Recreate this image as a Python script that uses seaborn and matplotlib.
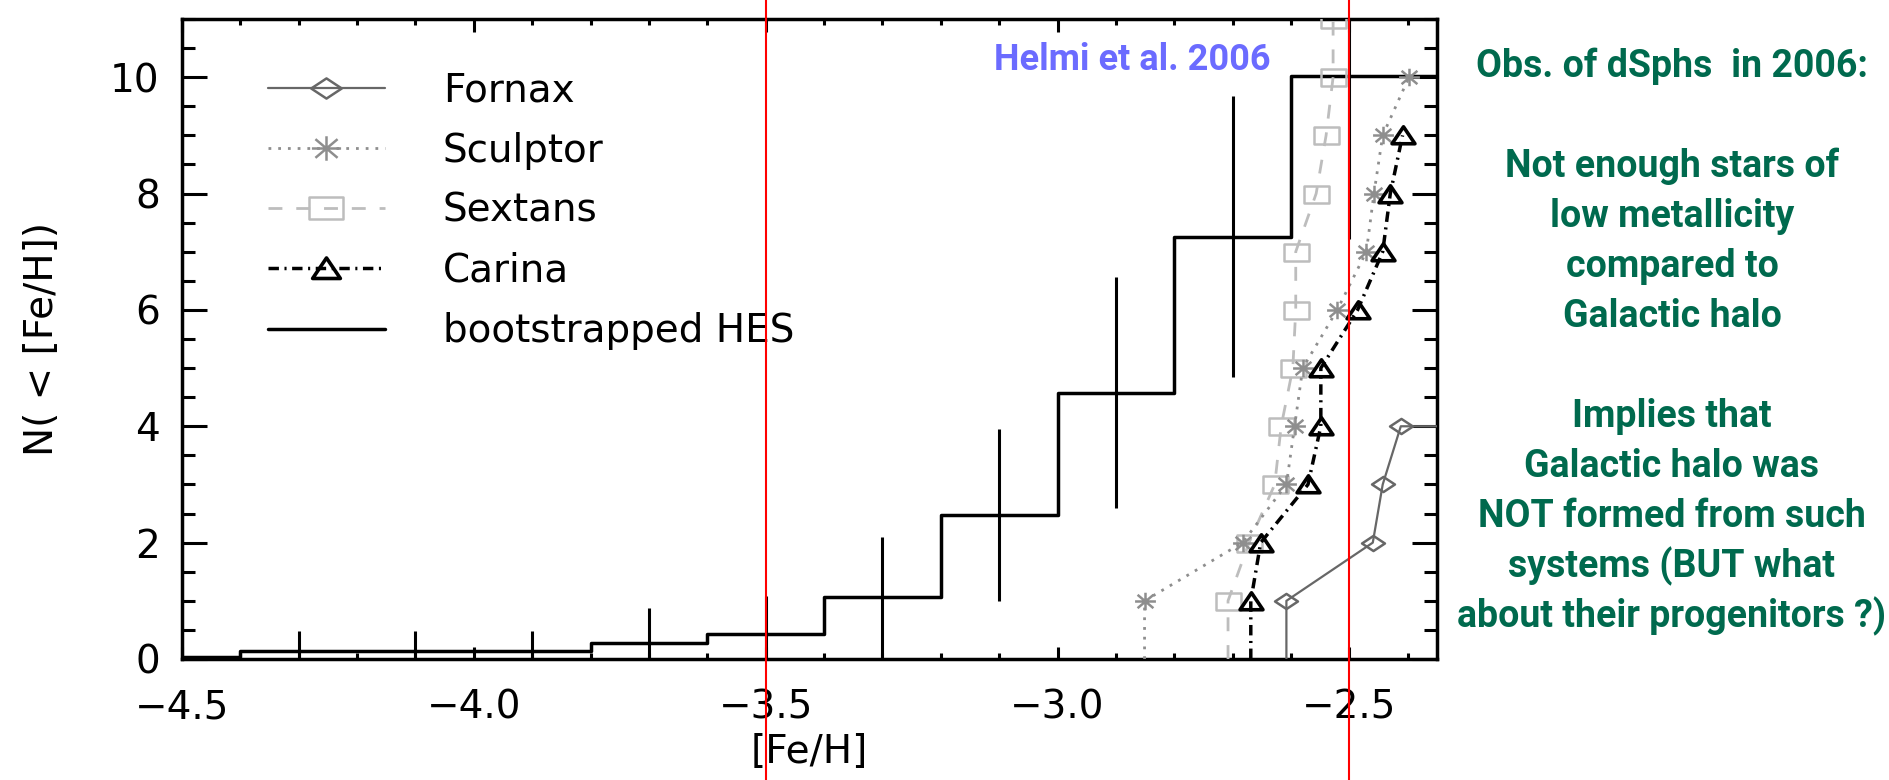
import numpy as np
import matplotlib
matplotlib.use("Agg")
import matplotlib.pyplot as plt
from matplotlib.path import Path
from matplotlib.lines import Line2D
from matplotlib.ticker import MultipleLocator
from matplotlib import font_manager as fm
import seaborn as sns

# ---------------- data ----------------
hes_feh = [-4.5, -4.3, -4.1, -3.9, -3.7, -3.5, -3.3, -3.1, -2.9, -2.7, -2.5, -2.3]
hes_n = [0.04, 0.13, 0.13, 0.13, 0.28, 0.43, 1.07, 2.47, 4.58, 7.26, 10.02, 10.02]
hes_err = [0.0, 0.35, 0.35, 0.35, 0.59, 0.66, 1.02, 1.48, 1.98, 2.42, 2.8, 0.0]

fornax_feh = [-2.608, -2.608, -2.460, -2.443, -2.412, -2.30]
fornax_n = [0, 1, 2, 3, 4, 4]

sculptor_feh = [-2.851, -2.851, -2.683, -2.608, -2.594, -2.580, -2.521, -2.471, -2.458, -2.443, -2.398]
sculptor_n = [0, 1, 2, 3, 4, 5, 6, 7, 8, 9, 10]

sextans_feh = [-2.708, -2.708, -2.672, -2.628, -2.617, -2.597, -2.592, -2.592, -2.557, -2.540, -2.528, -2.528]
sextans_n = [0, 1, 2, 3, 4, 5, 6, 7, 8, 9, 10, 11]

carina_feh = [-2.669, -2.669, -2.652, -2.571, -2.549, -2.549, -2.486, -2.443, -2.430, -2.409]
carina_n = [0, 1, 2, 3, 4, 5, 6, 7, 8, 9]

legend_labels = ["Fornax", "Sculptor", "Sextans", "Carina", "bootstrapped HES"]
red_lines = [-3.5, -2.5]
annotation = "Helmi et al. 2006"
side_lines = ["Obs. of dSphs  in 2006:", "", "Not enough stars of", "low metallicity",
              "compared to", "Galactic halo", "", "Implies that", "Galactic halo was",
              "NOT formed from such", "systems (BUT what", "about their progenitors ?)"]

# ---------------- style ----------------
sns.set_style("ticks")
plt.rcParams["font.family"] = ["DejaVu Sans"]
for k in ["text.color", "axes.labelcolor", "xtick.color", "ytick.color", "axes.edgecolor"]:
    plt.rcParams[k] = "black"
plt.rcParams["axes.linewidth"] = 2.5

names = {f.name for f in fm.fontManager.ttflist}
narrow = "Liberation Sans Narrow" if "Liberation Sans Narrow" in names else None
if narrow:
    tfam, side_fs, helmi_fs = [narrow, "DejaVu Sans"], 29.5, 29.5
else:
    tfam, side_fs, helmi_fs = ["Roboto", "DejaVu Sans"], 27, 26

# custom (flattened) IDL-like markers
M, L, C = Path.MOVETO, Path.LINETO, Path.CLOSEPOLY
diamond = Path([(0, -0.33), (0.5, 0), (0, 0.33), (-0.5, 0), (0, -0.33)], [M, L, L, L, C])
square = Path([(-0.5, -0.34), (0.5, -0.34), (0.5, 0.34), (-0.5, 0.34), (-0.5, -0.34)], [M, L, L, L, C])
triangle = Path([(-0.5, -0.36), (0.5, -0.36), (0, 0.38), (-0.5, -0.36)], [M, L, L, C])
star = Path([(0, -0.42), (0, 0.42), (-0.5, 0), (0.5, 0), (-0.38, -0.32), (0.38, 0.32),
             (-0.38, 0.32), (0.38, -0.32)], [M, L, M, L, M, L, M, L])

c_fornax = "#676767"
c_sculptor = "#8e8e8e"
c_sextans = "#bdbdbd"
c_carina = "black"

fig = plt.figure(figsize=(18.9, 7.8), dpi=100)
ax = fig.add_axes([182 / 1890, 1 - 659 / 780, (1437 - 182) / 1890, (659 - 19) / 780])

# HES bootstrapped histogram
sns.lineplot(x=hes_feh, y=hes_n, ax=ax, estimator=None, sort=False,
             drawstyle="steps-mid", color="black", lw=2.5, zorder=3)
ax.errorbar(hes_feh, hes_n, yerr=hes_err, fmt="none", ecolor="black",
            elinewidth=2.2, capsize=0, zorder=3)

sty = dict(estimator=None, sort=False, ax=ax, mfc="none")
sns.lineplot(x=sextans_feh, y=sextans_n, color=c_sextans, lw=2.0, linestyle=(0, (5, 5)),
             marker=square, markersize=18, mec=c_sextans, mew=1.8,
             markevery=list(range(1, len(sextans_n))), zorder=4, **sty)
sns.lineplot(x=sculptor_feh, y=sculptor_n, color=c_sculptor, lw=2.0, linestyle=(0, (1, 2.5)),
             marker=star, markersize=15, mec=c_sculptor, mew=1.8,
             markevery=list(range(1, len(sculptor_n))), zorder=5, **sty)
sns.lineplot(x=fornax_feh, y=fornax_n, color=c_fornax, lw=1.6, linestyle="-",
             marker=diamond, markersize=16.5, mec=c_fornax, mew=1.8,
             markevery=list(range(1, 5)), zorder=5, **sty)
sns.lineplot(x=carina_feh, y=carina_n, color=c_carina, lw=2.5, linestyle=(0, (3, 1.6, 0.6, 1.6)),
             marker=triangle, markersize=16.5, mec=c_carina, mew=2.6,
             markevery=list(range(1, len(carina_n))), zorder=6, **sty)

for xv in red_lines:
    ax.axvline(xv, ymin=-0.2, ymax=1.05, color="red", lw=1.5, clip_on=False, zorder=10)

ax.set_xlim(-4.5, -2.35)
ax.set_ylim(0, 11)
ax.xaxis.set_major_locator(MultipleLocator(0.5))
ax.xaxis.set_minor_locator(MultipleLocator(0.1))
ax.yaxis.set_major_locator(MultipleLocator(2))
ax.yaxis.set_minor_locator(MultipleLocator(0.5))
ax.tick_params(which="both", direction="in", top=True, right=True, color="black",
               labelcolor="black", labelsize=28)
ax.tick_params(axis="y", which="major", length=18, width=2.2, pad=16)
ax.tick_params(axis="y", which="minor", length=9.4, width=2.2)
ax.tick_params(axis="x", which="major", length=9, width=2.2, pad=21)
ax.tick_params(axis="x", which="minor", length=4.5, width=2.2)
for s in ax.spines.values():
    s.set_linewidth(2.5)
    s.set_color("black")

ax.set_xlabel("[Fe/H]", fontsize=28, color="black")
ax.xaxis.set_label_coords(0.5, -0.115)
ax.set_ylabel("N( < [Fe/H])", fontsize=28, va="center", color="black")
ax.yaxis.set_label_coords(-0.1115, 0.5)

# legend with proxy handles
handles = [
    Line2D([], [], color=c_fornax, lw=1.6, marker=diamond, ms=22, mfc="none", mec=c_fornax, mew=1.8),
    Line2D([], [], color=c_sculptor, lw=2.0, linestyle=(0, (1, 2.5)), marker=star, ms=21, mfc="none", mec=c_sculptor, mew=1.8),
    Line2D([], [], color=c_sextans, lw=2.0, linestyle=(0, (5, 5)), marker=square, ms=24, mfc="none", mec=c_sextans, mew=1.8),
    Line2D([], [], color=c_carina, lw=2.5, linestyle=(0, (3, 1.6, 0.6, 1.6)), marker=triangle, ms=20, mfc="none", mec=c_carina, mew=2.6),
    Line2D([], [], color="black", lw=2.5),
]
leg = ax.legend(handles, legend_labels, loc="upper left", bbox_to_anchor=(0.0685, 0.918),
                frameon=False, borderpad=0, borderaxespad=0, handlelength=3.0,
                handletextpad=1.5, labelspacing=0.57, fontsize=28)
for t in leg.get_texts():
    t.set_color("black")

# annotation
fig.text(1132 / 1890, 1 - 70 / 780, annotation, color="#6b6bff", fontsize=helmi_fs,
         fontweight="bold", family=tfam, ha="center", va="baseline")

for i, line in enumerate(side_lines):
    if not line:
        continue
    fig.text(1672 / 1890, 1 - (77 + 50 * i) / 780, line, color="#006a4e",
             fontsize=side_fs, fontweight="bold", family=tfam,
             ha="center", va="baseline")

fig.savefig("out.png", dpi=100, facecolor="white")
